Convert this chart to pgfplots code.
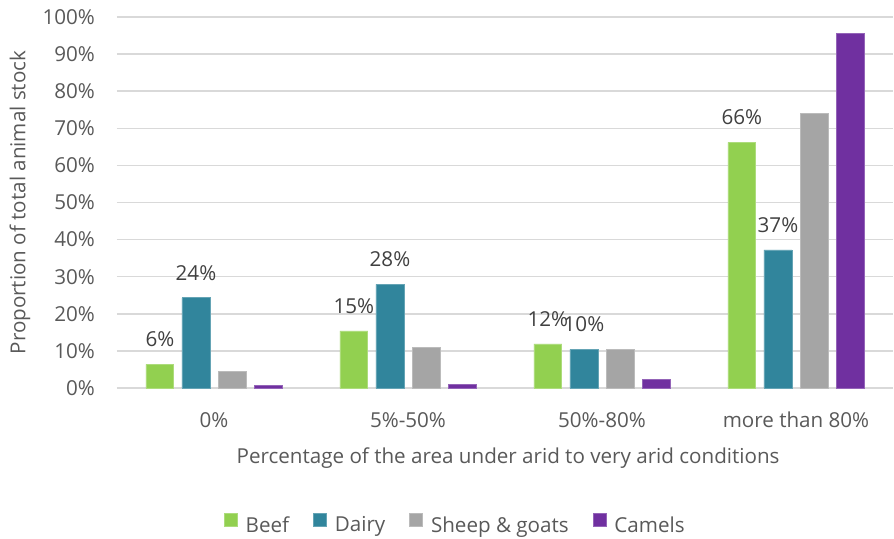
\documentclass[border=0pt]{standalone}
\usepackage{fontspec}
\setmainfont{Open Sans}
\usepackage{pgfplots}
\pgfplotsset{compat=1.18}

\definecolor{beef}{HTML}{92D050}
\definecolor{dairy}{HTML}{31859C}
\definecolor{sheep}{HTML}{A5A5A5}
\definecolor{camels}{HTML}{7030A0}
\definecolor{gridgray}{HTML}{D9D9D9}
\definecolor{ticktext}{HTML}{595959}
\definecolor{datatext}{HTML}{404040}

\newcommand{\chartfont}{\fontsize{20.6bp}{24bp}\selectfont}

% share of each stock type (%) per aridity class: 0%, 5%-50%, 50%-80%, >80%
\pgfplotstableread{
x y
0 6.4
1 15.4
2 11.9
3 66.2
}\beef
\pgfplotstableread{
x y
0 24.3
1 27.9
2 10.4
3 37.2
}\dairy
\pgfplotstableread{
x y
0 4.4
1 10.9
2 10.5
3 73.9
}\sheep
\pgfplotstableread{
x y
0 0.8
1 1.0
2 2.4
3 95.6
}\camels

\begin{document}
\begin{tikzpicture}
\path[use as bounding box] (-117bp,-151bp) rectangle (777bp,388bp);
\begin{axis}[
  at={(0,0)}, anchor=south west,
  scale only axis, width=776bp, height=371bp,
  ybar, bar width=0.144,
  xmin=-0.5, xmax=3.5, ymin=0, ymax=100,
  xtick={0,1,2,3},
  xticklabels={0\%, 5\%-50\%, 50\%-80\%, more than 80\%},
  ytick={0,10,...,100},
  yticklabel={\pgfmathprintnumber{\tick}\%},
  /pgf/number format/assume math mode=true,
  axis line style={draw=none},
  major tick length=0pt,
  ymajorgrids, major grid style={draw=gridgray, line width=1.4bp},
  tick label style={font=\chartfont, text=ticktext, inner sep=0pt},
  yticklabel style={anchor=east, xshift=-22bp},
  xticklabel style={anchor=north, yshift=-24bp},
  xlabel={Percentage of the area under arid to very arid conditions},
  ylabel={Proportion of total animal stock},
  label style={font=\chartfont, text=ticktext},
  xlabel style={at={(axis description cs:0.504,-0.189)}, anchor=center},
  ylabel style={at={(axis description cs:-0.125,0.5)}, anchor=center, rotate=0},
  legend columns=4,
  legend style={draw=none, fill=none, font=\chartfont, text=ticktext,
    at={(axis description cs:0.436,-0.367)}, anchor=center,
    /tikz/every odd column/.append style={column sep=6bp},
    /tikz/every even column/.append style={column sep=22bp}},
  legend image code/.code={\fill[#1] (0bp,-1bp) rectangle (13bp,12bp);},
  every node near coord/.append style={font=\chartfont, text=datatext,
    inner sep=0pt, anchor=south, yshift=17bp},
]
\addplot[fill=beef, draw=beef!75!white, line width=0.7bp, bar shift=-0.279,
  nodes near coords={\pgfmathprintnumber[fixed,precision=0]{\pgfplotspointmeta}\%}]
  table {\beef};
\addlegendentry{Beef}
\addplot[fill=dairy, draw=dairy!75!white, line width=0.7bp, bar shift=-0.093,
  nodes near coords={\pgfmathprintnumber[fixed,precision=0]{\pgfplotspointmeta}\%}]
  table {\dairy};
\addlegendentry{Dairy}
\addplot[fill=sheep, draw=sheep!75!white, line width=0.7bp, bar shift=0.093]
  table {\sheep};
\addlegendentry{Sheep \& goats}
\addplot[fill=camels, draw=camels!75!white, line width=0.7bp, bar shift=0.279]
  table {\camels};
\addlegendentry{Camels}
\end{axis}
\end{tikzpicture}
\end{document}
